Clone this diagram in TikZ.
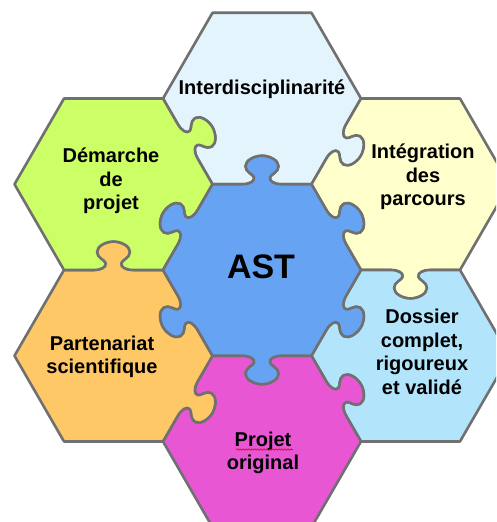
\documentclass[tikz,border=0pt]{standalone}
\usepackage{fontspec}
\setmainfont{Liberation Sans}
\usetikzlibrary{decorations.pathmorphing}
\definecolor{cTop}{RGB}{227,244,253}
\definecolor{cYel}{RGB}{255,255,204}
\definecolor{cLBl}{RGB}{178,229,251}
\definecolor{cPnk}{RGB}{232,86,212}
\definecolor{cOrg}{RGB}{255,200,102}
\definecolor{cGrn}{RGB}{204,255,102}
\definecolor{cCen}{RGB}{102,163,242}
\definecolor{cEdge}{RGB}{112,112,112}
\tikzset{
  kf/.style n args={3}{shift={(#1,#2)},rotate={30+60*(#3)}},
  kk/.style n args={4}{shift={(#1,#2)},rotate={30+60*(#3)},xshift=85.74pt,xscale=#4},
  piece/.style={draw=cEdge, line width=2.6pt, line join=round},
  lbl/.style={font=\bfseries\fontsize{20}{23.5}\selectfont, align=center, text=black, inner sep=0pt},
  biglbl/.style={font=\bfseries\fontsize{34}{40}\selectfont, text=black, inner sep=0pt},
  squiggle/.style={draw=red!85!black, line width=0.6pt, decorate, decoration={snake, amplitude=0.7pt, segment length=3pt}},
}
% straight edge k of the hexagon centred at (#1,#2)
\newcommand\Sedge[3]{-- ([kf={#1}{#2}{#3}]85.74,49.5)}
% edge k with a jigsaw knob, #4 = 1 outward, -1 inward
\newcommand\Kedge[4]{%
 -- ([kk={#1}{#2}{#3}{#4}]0,-20)
 .. controls ([kk={#1}{#2}{#3}{#4}]0,-12) and ([kk={#1}{#2}{#3}{#4}]3,-7) .. ([kk={#1}{#2}{#3}{#4}]7,-8)
 .. controls ([kk={#1}{#2}{#3}{#4}]10,-8.75) and ([kk={#1}{#2}{#3}{#4}]12,-16.5) .. ([kk={#1}{#2}{#3}{#4}]18,-16.5)
 .. controls ([kk={#1}{#2}{#3}{#4}]24,-16.5) and ([kk={#1}{#2}{#3}{#4}]28.5,-7.5) .. ([kk={#1}{#2}{#3}{#4}]28.5,0)
 .. controls ([kk={#1}{#2}{#3}{#4}]28.5,7.5) and ([kk={#1}{#2}{#3}{#4}]24,16.5) .. ([kk={#1}{#2}{#3}{#4}]18,16.5)
 .. controls ([kk={#1}{#2}{#3}{#4}]12,16.5) and ([kk={#1}{#2}{#3}{#4}]10,8.75) .. ([kk={#1}{#2}{#3}{#4}]7,8)
 .. controls ([kk={#1}{#2}{#3}{#4}]3,7) and ([kk={#1}{#2}{#3}{#4}]0,12) .. ([kk={#1}{#2}{#3}{#4}]0,20)
 -- ([kf={#1}{#2}{#3}]85.74,49.5)}
\begin{document}
\begin{tikzpicture}[x=1pt,y=1pt]
\useasboundingbox (0,0) rectangle (496,522);
\clip (0,0) rectangle (496,522);
\fill[white] (0,0) rectangle (496,522);
% top
\draw[piece, fill=cTop] ([kf={262}{423.47}{0}]85.74,-49.5)
  \Sedge{262}{423.47}{0} \Sedge{262}{423.47}{1} \Sedge{262}{423.47}{2}
  \Kedge{262}{423.47}{3}{-1} \Kedge{262}{423.47}{4}{-1} \Kedge{262}{423.47}{5}{1} -- cycle;
% upper right
\draw[piece, fill=cYel] ([kf={410.5}{337.74}{0}]85.74,-49.5)
  \Sedge{410.5}{337.74}{0} \Sedge{410.5}{337.74}{1} \Kedge{410.5}{337.74}{2}{-1}
  \Kedge{410.5}{337.74}{3}{-1} \Kedge{410.5}{337.74}{4}{1} \Sedge{410.5}{337.74}{5} -- cycle;
% lower right
\draw[piece, fill=cLBl] ([kf={410.5}{166.26}{0}]85.74,-49.5)
  \Sedge{410.5}{166.26}{0} \Kedge{410.5}{166.26}{1}{-1} \Kedge{410.5}{166.26}{2}{-1}
  \Kedge{410.5}{166.26}{3}{-1} \Sedge{410.5}{166.26}{4} \Sedge{410.5}{166.26}{5} -- cycle;
% bottom
\draw[piece, fill=cPnk] ([kf={262}{80.53}{0}]85.74,-49.5)
  \Kedge{262}{80.53}{0}{1} \Kedge{262}{80.53}{1}{-1} \Kedge{262}{80.53}{2}{-1}
  \Sedge{262}{80.53}{3} \Sedge{262}{80.53}{4} \Sedge{262}{80.53}{5} -- cycle;
% lower left
\draw[piece, fill=cOrg] ([kf={113.5}{166.26}{0}]85.74,-49.5)
  \Kedge{113.5}{166.26}{0}{-1} \Kedge{113.5}{166.26}{1}{1} \Sedge{113.5}{166.26}{2}
  \Sedge{113.5}{166.26}{3} \Sedge{113.5}{166.26}{4} \Kedge{113.5}{166.26}{5}{1} -- cycle;
% upper left
\draw[piece, fill=cGrn] ([kf={113.5}{337.74}{0}]85.74,-49.5)
  \Kedge{113.5}{337.74}{0}{1} \Sedge{113.5}{337.74}{1} \Sedge{113.5}{337.74}{2}
  \Sedge{113.5}{337.74}{3} \Kedge{113.5}{337.74}{4}{-1} \Kedge{113.5}{337.74}{5}{-1} -- cycle;
% centre
\draw[piece, fill=cCen] ([kf={262}{252}{0}]85.74,-49.5)
  \Kedge{262}{252}{0}{1} \Kedge{262}{252}{1}{1} \Kedge{262}{252}{2}{1}
  \Kedge{262}{252}{3}{1} \Kedge{262}{252}{4}{1} \Kedge{262}{252}{5}{1} -- cycle;
% labels
\node[biglbl] (ast) at (261,255) {AST};
\node[lbl] (inter) at (262,433) {Interdisciplinarité};
\node[lbl] (demarche) at (111,341) {Démarche\\de\\projet};
\node[lbl] (integ) at (423,345) {Intégration\\des\\parcours};
\node[lbl] (dossier) at (422,170) {Dossier\\complet,\\rigoureux\\et validé};
\node[lbl] (parten) at (102,165) {Partenariat\\scientifique};
\node[lbl] (projet) at (263,69) {Projet\\original};
\coordinate (sqA) at (236,72.5);
\coordinate (sqB) at (293,72.5);
\draw[squiggle] (sqA) -- (sqB);
\end{tikzpicture}
\end{document}
